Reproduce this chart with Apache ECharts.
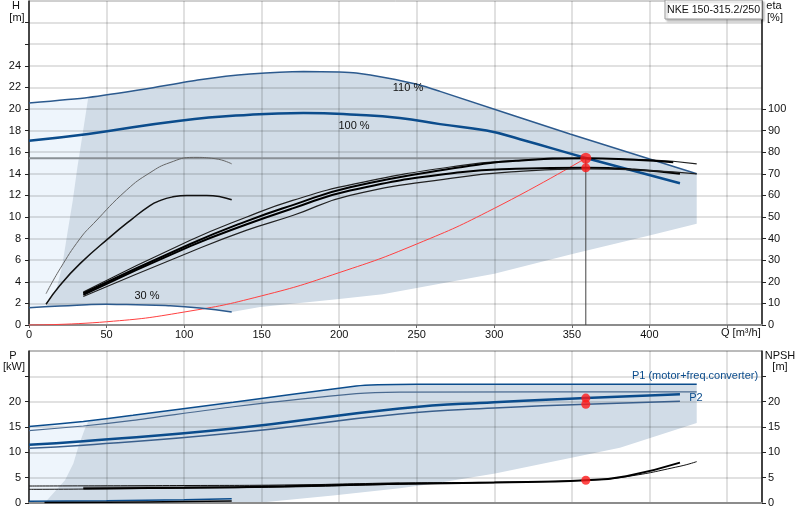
<!DOCTYPE html>
<html>
<head>
<meta charset="utf-8">
<script src="https://cdn.jsdelivr.net/npm/echarts@6/dist/echarts.min.js"></script>
<style>
  html, body { margin: 0; padding: 0; background: #fff; }
  #chart { width: 800px; height: 520px; }
</style>
</head>
<body>
<div id="chart"></div>
<script>
// ---- data (Q in m3/h) ----
const qLabels = [0, 50, 100, 150, 200, 250, 300, 350, 400];

// head curves H [m]
const head110 = [[0, 20.55], [38.2, 21.07], [75, 21.85], [110, 22.7], [142.5, 23.23], [177, 23.47], [200, 23.42], [211, 23.33], [230, 22.9], [252, 22.22], [265, 21.63], [348.8, 17.69], [430.5, 14.0]];
const head100 = [[0, 17.07], [38.2, 17.69], [97.4, 18.92], [142.5, 19.47], [177, 19.63], [211, 19.47], [239, 19.17], [265, 18.6], [295, 18.0], [316.6, 17.2], [359, 15.47], [419.7, 13.12]];
const head30 = [[0, 1.6], [20, 1.76], [50, 1.91], [63, 1.9], [90, 1.78], [110, 1.57], [130.7, 1.2]];
const systemCurve = [[0, 0], [50, 0.3], [100, 1.2], [150, 2.7], [200, 4.85], [250, 7.5], [300, 10.8], [359, 15.45]];
const dutyHeadLine = [[0, 15.45], [359, 15.45]];
const dutyDrop = [[359, 0], [359, 15.45]];
const dutyHead = [[359, 15.45]];

// efficiency curves eta [%]
const etaLow1 = [[11, 14.5], [20, 26], [32.9, 40], [41.5, 46.9], [63, 62.5], [78, 70.5], [90.9, 75.2], [106, 77.6], [120, 77], [130.7, 74.6]];
const etaLow2 = [[11, 9.6], [20, 18.4], [32.9, 28.4], [52.2, 40.7], [66, 48.8], [78, 55.3], [84.5, 57.6], [92, 59.2], [101.7, 60], [114.6, 60], [130.7, 58]];
const etaPump110 = [[35, 15.3], [104, 39.2], [140, 49.9], [170, 57.7], [210, 65.3], [278, 73.8], [314, 76.1], [359, 77.2], [400, 76.5], [430.5, 74.6]];
const etaPump100 = [[35, 14.7], [104, 37.5], [140, 48], [170, 55.5], [207, 63.8], [278, 73], [314, 76], [359, 77.25], [390, 76.5], [415.4, 75.35]];
const etaTot100 = [[35, 14], [104, 36.5], [140, 46.5], [170, 54], [207, 62.3], [278, 70.7], [314, 72.3], [359, 72.75], [390, 72], [419.7, 70]];
const etaTot110 = [[35, 13.2], [104, 33.8], [140, 43.8], [170, 50.7], [207, 60], [278, 68.5], [314, 71], [359, 72.3], [400, 71.5], [430.5, 70]];
const dutyEta = [[359, 72.75]];

// operating range in H
const rangeHeadLight = [[0, 1.6], [0, 20.55], [38.2, 21.07], [38.2, 1.75], [11, 1.7]];
const rangeHead = [[11, 1.7], [14, 2.4], [18, 3.5], [21.3, 5.4], [24.7, 8.45], [28.2, 11.5], [31.2, 14.6], [34.6, 17.7], [38.2, 21.07],
  [75, 21.85], [110, 22.7], [142.5, 23.23], [177, 23.47], [200, 23.42], [211, 23.33], [230, 22.9], [252, 22.22], [265, 21.63], [348.8, 17.69], [430.5, 14.0],
  [430.5, 9.37], [400, 8.29], [351, 6.6], [300, 4.75], [228, 2.84], [200, 2.4], [181, 2.13], [149, 1.66], [130.7, 1.2],
  [110, 1.57], [90, 1.78], [63, 1.9], [50, 1.91], [20, 1.76]];

// power P [kW]
const p1Max = [[0, 15.1], [35, 16.1], [67, 17.3], [131.7, 19.9], [211, 23.1], [225, 23.35], [250, 23.45], [430.5, 23.45]];
const p2Max = [[0, 14.3], [35, 15.2], [67, 16.3], [131.7, 19.0], [211, 21.6], [239, 21.9], [430.5, 21.95]];
const p1Nom = [[0, 11.5], [35, 12.2], [131.7, 14.7], [239, 18.65], [300, 19.9], [359, 20.7], [419.7, 21.45]];
const p2Nom = [[0, 10.8], [35, 11.4], [131.7, 13.8], [239, 17.55], [300, 18.75], [359, 19.5], [419.7, 20.1]];
const p1Min = [[0, 0.35], [50, 0.45], [100, 0.65], [130.7, 0.85]];
const p2Min = [[10, 0.1], [50, 0.15], [100, 0.3], [130.7, 0.4]];
const dutyPower = [[359, 20.7], [359, 19.5]];

// NPSH [m]
const npshMax = [[0, 3.35], [100, 3.45], [165, 3.55], [239, 3.95], [300, 4.1], [359, 4.5], [385, 5.2], [419.7, 7.25], [430.5, 8.17]];
const npshLow = [[0, 2.7], [35, 2.75], [100, 2.95], [165, 3.15], [239, 3.7], [300, 4.0]];
const npshNom = [[35, 2.85], [100, 3.0], [165, 3.3], [239, 3.8], [300, 4.05], [359, 4.5], [385, 5.3], [419.7, 7.97]];
const npshBand = [[35, 3.05], [100, 3.2], [165, 3.4], [239, 3.9]];
const dutyNpsh = [[359, 4.5]];

// operating range in P
const rangePowerLight = [[0, 0], [0, 15.1], [38.2, 16.1], [38.2, 0]];
const rangePower = [[10, 0], [13.5, 1.2], [18, 2.7], [23.2, 4.5], [28.6, 7.8], [31.8, 11.1], [36.1, 14.7], [38.2, 16.1],
  [67, 17.3], [131.7, 19.9], [211, 23.1], [225, 23.35], [250, 23.45], [430.5, 23.45],
  [430.5, 15.8], [381, 10.9], [300.5, 5.8], [260.5, 3.8], [239, 2.9], [196, 1.5], [153, 0.2], [131.7, 0]];

const FONT = 'Liberation Sans, Arial, sans-serif';
const BLUE = '#0b4c8c';
const BLUE_THIN = '#2c5a8e';
const FILL = '#d1dce7';
const FILL_LIGHT = '#eef5fc';
const GRIDC = 'rgba(0,0,0,0.16)';

function line(data, xi, yi, color, width, extra) {
  return Object.assign({
    type: 'line', data: data, xAxisIndex: xi, yAxisIndex: yi,
    symbol: 'none', smooth: 0.5,
    lineStyle: { color: color, width: width }, silent: true, z: 3
  }, extra || {});
}

function area(data, xi, yi, color) {
  return {
    type: 'custom', xAxisIndex: xi, yAxisIndex: yi, silent: true, z: 0,
    data: data, encode: { x: 0, y: 1 },
    renderItem: function (params, api) {
      if (params.dataIndex !== 0) return null;
      const pts = data.map(d => api.coord(d));
      return { type: 'polygon', shape: { points: pts }, style: { fill: color } };
    }
  };
}

function dots(data, xi, yi, size) {
  return {
    type: 'scatter', data: data, xAxisIndex: xi, yAxisIndex: yi,
    symbolSize: size, itemStyle: { color: '#ff1a1a' }, silent: true, z: 6
  };
}

function xAx(gi, showLabels) {
  return {
    type: 'value', gridIndex: gi, min: 0, max: 472.6, interval: 50, z: 1,
    axisLine: { show: true, lineStyle: { color: '#8c8c8c', width: 2 } },
    axisTick: { show: showLabels, length: 3, lineStyle: { color: '#666' } },
    splitLine: { show: true, lineStyle: { color: GRIDC, width: 1.5 } },
    axisLabel: {
      show: showLabels, margin: 4, showMaxLabel: false, color: '#111', fontFamily: FONT, fontSize: 11,
      formatter: v => (qLabels.indexOf(v) >= 0 ? String(v) : '')
    }
  };
}

function yAx(gi, pos, max, interval, labelMax, tickMax, showSplit) {
  const labels = [], ticks = [];
  for (let v = 0; v <= tickMax; v += interval) { ticks.push(v); if (v <= labelMax) labels.push(v); }
  return {
    type: 'value', gridIndex: gi, position: pos, min: 0, max: max, interval: interval, z: 1,
    axisLine: { show: true, lineStyle: { color: '#222', width: 1.5 } },
    axisTick: { show: true, length: 4, inside: false, customValues: ticks, lineStyle: { color: '#222' } },
    splitLine: { show: showSplit, lineStyle: { color: GRIDC, width: 1.5 } },
    axisLabel: {
      show: true, margin: pos === 'left' ? 8 : 6, customValues: labels, color: '#111', fontFamily: FONT, fontSize: 11,
      formatter: v => (v <= labelMax ? String(v) : '')
    }
  };
}

function txt(x, y, s, color, align, size) {
  return { type: 'text', x: x, y: y, z: 10, style: { text: s, fill: color || '#111', font: (size || 11) + 'px ' + FONT, textAlign: align || 'center', textVerticalAlign: 'middle' } };
}

const chart = echarts.init(document.getElementById('chart'));
chart.setOption({
  animation: false,
  backgroundColor: '#fff',
  grid: [
    { left: 29, right: 38, top: 1, height: 324, show: true, borderColor: '#a0a0a0', borderWidth: 1, backgroundColor: 'transparent' },
    { left: 29, right: 38, top: 351, height: 152, show: true, borderColor: '#777', borderWidth: 1, backgroundColor: 'transparent' }
  ],
  xAxis: [xAx(0, true), xAx(1, false)],
  yAxis: [
    yAx(0, 'left', 30, 2, 24, 28, true),
    yAx(0, 'right', 150, 10, 100, 100, false),
    yAx(1, 'left', 30, 5, 20, 25, true),
    yAx(1, 'right', 30, 5, 20, 25, false)
  ],
  graphic: [
    txt(16, 6, 'H'), txt(17, 18, '[m]'),
    txt(774, 6, 'eta'), txt(775, 18, '[%]'),
    txt(13, 356, 'P'), txt(14, 367, '[kW]'),
    txt(780, 356, 'NPSH'), txt(780, 367, '[m]'),
    txt(721, 333, 'Q [m³/h]', '#111', 'left'),
    txt(408, 88, '110 %'), txt(354, 126, '100 %'), txt(147, 296, '30 %'),
    txt(695, 376, 'P1 (motor+freq.converter)', BLUE), txt(696, 398, 'P2', BLUE),
    {
      type: 'rect', z: 9, shape: { x: 665, y: 0, width: 97, height: 19 },
      style: { fill: '#fff', stroke: '#999', lineWidth: 1, shadowColor: 'rgba(0,0,0,0.25)', shadowOffsetX: 2, shadowOffsetY: 2, shadowBlur: 2 }
    },
    txt(667, 10, 'NKE 150-315.2/250', '#111', 'left', 10.6)
  ],
  series: [
    // top chart
    area(rangeHeadLight, 0, 0, FILL_LIGHT),
    area(rangeHead, 0, 0, FILL),
    line(dutyHeadLine, 0, 0, '#8a9096', 2, { smooth: false }),
    line(dutyDrop, 0, 0, '#444', 1, { smooth: false }),
    line(systemCurve, 0, 0, '#ff4040', 1),
    line(head110, 0, 0, BLUE_THIN, 1.5, { smooth: 0.2 }),
    line(head100, 0, 0, BLUE, 2.5),
    line(head30, 0, 0, BLUE_THIN, 1.5),
    line(etaLow1, 0, 1, '#666', 1),
    line(etaLow2, 0, 1, '#111', 1.5),
    line(etaPump110, 0, 1, '#222', 1.2),
    line(etaPump100, 0, 1, '#000', 2),
    line(etaTot100, 0, 1, '#000', 2),
    line(etaTot110, 0, 1, '#222', 1.2),
    dots(dutyHead, 0, 0, 11),
    dots(dutyEta, 0, 1, 9),
    // bottom chart
    area(rangePowerLight, 1, 2, FILL_LIGHT),
    area(rangePower, 1, 2, FILL),
    line(p1Max, 1, 2, BLUE, 1.5, { smooth: 0.2 }),
    line(p2Max, 1, 2, '#4a6a90', 1.2, { smooth: 0.2 }),
    line(p1Nom, 1, 2, BLUE, 2.5),
    line(p2Nom, 1, 2, '#3a5f8c', 1.5),
    line(p1Min, 1, 2, BLUE, 1.5),
    line(p2Min, 1, 2, '#000', 1.5),
    line(npshBand, 1, 3, '#8a8f95', 2),
    line(npshLow, 1, 3, '#111', 1),
    line(npshMax, 1, 3, '#111', 1),
    line(npshNom, 1, 3, '#000', 2),
    dots(dutyPower, 1, 2, 9),
    dots(dutyNpsh, 1, 3, 9)
  ]
});
</script>
</body>
</html>
